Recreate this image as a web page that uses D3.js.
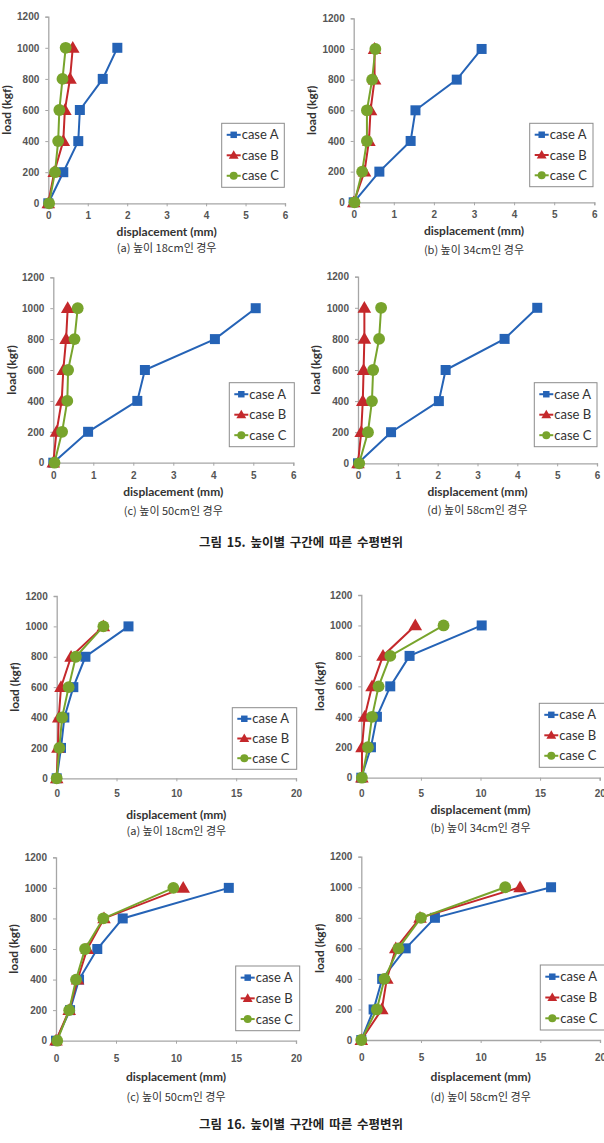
<!DOCTYPE html>
<html><head><meta charset="utf-8">
<script src="https://cdn.jsdelivr.net/npm/d3@7"></script>
<style>
html,body{margin:0;padding:0;background:#fff;}
svg{display:block;}
</style></head>
<body>
<svg id="c" width="604" height="1143"></svg>
<script>
// ---------- data ----------
const loads = [0, 200, 400, 600, 800, 1000];
const yTicks = [0, 200, 400, 600, 800, 1000, 1200];
const xTicksSmall = [0, 1, 2, 3, 4, 5, 6];
const xTicksLarge = [0, 5, 10, 15, 20];
const seriesNames = ["case A", "case B", "case C"];
const subCaptions = ["(a) 높이 18cm인 경우", "(b) 높이 34cm인 경우", "(c) 높이 50cm인 경우", "(d) 높이 58cm인 경우"];
const figCaptions = ["그림 15. 높이별 구간에 따른 수평변위", "그림 16. 높이별 구간에 따른 수평변위"];
const xTitle = "displacement (mm)";
const yTitle = "load (kgf)";

// Figure 15 displacements (mm)
const f15a_A = [0, 0.38, 0.76, 0.80, 1.38, 1.75];
const f15a_B = [0, 0.15, 0.38, 0.42, 0.55, 0.62];
const f15a_C = [0.02, 0.17, 0.25, 0.28, 0.36, 0.44];
const f15b_A = [0, 0.64, 1.42, 1.54, 2.57, 3.19];
const f15b_B = [0, 0.27, 0.38, 0.42, 0.52, 0.52];
const f15b_C = [0.02, 0.21, 0.33, 0.33, 0.46, 0.54];
const f15c_A = [0, 0.87, 2.10, 2.29, 4.04, 5.06];
const f15c_B = [0, 0.08, 0.21, 0.25, 0.32, 0.36];
const f15c_C = [0.03, 0.22, 0.35, 0.37, 0.53, 0.61];
const f15d_A = [0, 0.83, 2.03, 2.20, 3.68, 4.50];
const f15d_B = [0, 0.08, 0.12, 0.14, 0.16, 0.16];
const f15d_C = [0.03, 0.25, 0.35, 0.38, 0.53, 0.58];
// Figure 16 displacements (mm)
const f16a_A = [0, 0.36, 0.64, 1.39, 2.40, 6.00];
const f16a_B = [0, 0.10, 0.17, 0.36, 1.20, 3.90];
const f16a_C = [0, 0.22, 0.45, 1.00, 1.60, 3.90];
const f16b_A = [0, 0.81, 1.31, 2.43, 4.05, 10.10];
const f16b_B = [0.05, 0.06, 0.28, 0.90, 1.82, 4.53];
const f16b_C = [0.05, 0.56, 0.90, 1.45, 2.43, 6.90];
const f16c_A = [0, 1.17, 1.92, 3.44, 5.56, 14.40];
const f16c_B = [0, 1.10, 1.80, 2.60, 4.00, 10.60];
const f16c_C = [0.10, 1.10, 1.67, 2.42, 3.94, 9.78];
const f16d_A = [0, 1.03, 1.75, 3.72, 6.17, 15.90];
const f16d_B = [0, 1.72, 2.14, 2.89, 4.92, 13.30];
const f16d_C = [0, 1.30, 1.94, 3.11, 5.00, 12.06];

// ---------- layout ----------
const colors = ["#2563b6", "#c4282b", "#78a42c"];
const panels = [
  {series:[f15a_A,f15a_B,f15a_C], ticks:xTicksSmall, cap:0, x0:48.3, x1:285, y0:203.3, y1:16.7, tk:12.7, tt:28.5, cp:45, lg:[221.7,123.3,62.6,64]},
  {series:[f15b_A,f15b_B,f15b_C], ticks:xTicksSmall, cap:1, x0:353.7, x1:594.3, y0:202.3, y1:18.3, tk:12.7, tt:28.5, cp:48, lg:[529.7,123.3,63.3,63.4]},
  {series:[f15c_A,f15c_B,f15c_C], ticks:xTicksSmall, cap:2, x0:53.3, x1:293.3, y0:462.7, y1:277.3, tk:12.5, tt:29, cp:48, lg:[229.3,382.7,65,64]},
  {series:[f15d_A,f15d_B,f15d_C], ticks:xTicksSmall, cap:3, x0:358, x1:597, y0:463.3, y1:276.7, tk:12.5, tt:28.5, cp:47, lg:[534.3,382.7,62.7,64]},
  {series:[f16a_A,f16a_B,f16a_C], ticks:xTicksLarge, cap:0, x0:56.7, x1:296, y0:778.3, y1:596, tk:15, tt:36.7, cp:52.4, lg:[232.3,707.7,64.4,61.6]},
  {series:[f16b_A,f16b_B,f16b_C], ticks:xTicksLarge, cap:1, x0:361.3, x1:599.7, y0:777.7, y1:595, tk:15.6, tt:31.6, cp:50.6, lg:[539.3,703.3,66,64]},
  {series:[f16c_A,f16c_B,f16c_C], ticks:xTicksLarge, cap:2, x0:56, x1:296, y0:1040.7, y1:857.3, tk:17.6, tt:36.3, cp:56, lg:[235.7,966,64,64.7]},
  {series:[f16d_A,f16d_B,f16d_C], ticks:xTicksLarge, cap:3, x0:361.3, x1:600, y0:1040, y1:856.7, tk:17.3, tt:36.7, cp:57, lg:[540.3,965,66,65]},
];
const figCapY = [543, 1125];

const svg = d3.select("#c");
const axisColor = "#a6a6a6";
const tickFont = "'Liberation Sans', Arial, sans-serif";
const latin = "Lato, 'Open Sans', sans-serif";
const kr = "'Noto Sans CJK KR', sans-serif";

const symbols = [d3.symbolSquare, d3.symbolTriangle, d3.symbolCircle];
const symSize = [100, 80, 110];
const legSize = [42, 42, 50];

panels.forEach(p => {
  const xmax = p.ticks[p.ticks.length - 1];
  const x = d3.scaleLinear().domain([0, xmax]).range([p.x0, p.x1]);
  const y = d3.scaleLinear().domain([0, 1200]).range([p.y0, p.y1]);
  const g = svg.append("g");

  // x axis
  const xa = g.append("g").attr("transform", `translate(0,${p.y0})`)
    .call(d3.axisBottom(x).tickValues(p.ticks).tickSize(3).tickPadding(2).tickFormat(d3.format("d")));
  xa.select(".domain").attr("stroke", axisColor).attr("stroke-width", 1.3);
  xa.selectAll(".tick line").attr("stroke", axisColor);
  xa.selectAll(".tick text").attr("fill", "#555").attr("font-family", tickFont)
    .attr("font-weight", "bold").attr("font-size", 10).attr("dy", null).attr("y", p.tk + 3.5);

  // y axis
  const ya = g.append("g").attr("transform", `translate(${p.x0},0)`)
    .call(d3.axisLeft(y).tickValues(yTicks).tickSize(3).tickPadding(6).tickFormat(d3.format("d")));
  ya.select(".domain").attr("stroke", axisColor).attr("stroke-width", 1.3);
  ya.selectAll(".tick line").attr("stroke", axisColor);
  ya.selectAll(".tick text").attr("fill", "#555").attr("font-family", tickFont)
    .attr("font-weight", "bold").attr("font-size", 10);

  const cx = (p.x0 + p.x1) / 2;
  g.append("text").attr("x", cx).attr("y", p.y0 + p.tt).attr("dy", "0.35em")
    .attr("text-anchor", "middle").attr("font-family", latin).attr("font-weight", "bold")
    .attr("font-size", 12).attr("fill", "#333").text(xTitle);
  const ym = (p.y0 + p.y1) / 2;
  g.append("text").attr("transform", `translate(${p.x0 - 42},${ym}) rotate(-90)`).attr("dy", "0.35em")
    .attr("text-anchor", "middle").attr("font-family", latin).attr("font-weight", "bold")
    .attr("font-size", 12).attr("fill", "#333").text(yTitle);
  g.append("text").attr("x", cx).attr("y", p.y0 + p.cp).attr("dy", "0.35em")
    .attr("text-anchor", "middle").attr("font-family", kr)
    .attr("font-size", 11).attr("fill", "#333").text(subCaptions[p.cap]);

  // series
  const line = d3.line().x(d => x(d[0])).y(d => y(d[1]));
  p.series.forEach((vals, i) => {
    const pts = vals.map((v, k) => [v, loads[k]]);
    g.append("path").attr("d", line(pts)).attr("fill", "none")
      .attr("stroke", colors[i]).attr("stroke-width", 2);
    g.selectAll(null).data(pts).enter().append("path")
      .attr("transform", d => `translate(${x(d[0])},${y(d[1]) + (i === 1 ? 1 : 0)})`)
      .attr("d", d3.symbol().type(symbols[i]).size(symSize[i]))
      .attr("fill", colors[i]);
  });

  // legend
  const [lx, ly, lw, lh] = p.lg;
  const lg = g.append("g");
  lg.append("rect").attr("x", lx).attr("y", ly).attr("width", lw).attr("height", lh)
    .attr("fill", "#fff").attr("stroke", "#8c8c8c").attr("stroke-width", 1);
  seriesNames.forEach((name, i) => {
    const ey = ly + lh * (0.18 + 0.32 * i);
    lg.append("line").attr("x1", lx + 5).attr("x2", lx + 19).attr("y1", ey).attr("y2", ey)
      .attr("stroke", colors[i]).attr("stroke-width", 2);
    lg.append("path").attr("transform", `translate(${lx + 12},${ey + (i === 1 ? 0.7 : 0)})`)
      .attr("d", d3.symbol().type(symbols[i]).size(legSize[i])).attr("fill", colors[i]);
    lg.append("text").attr("x", lx + 20).attr("y", ey).attr("dy", "0.35em")
      .attr("font-family", latin).attr("font-size", 13).attr("fill", "#333").text(name);
  });
});

figCaptions.forEach((t, i) => {
  svg.append("text").attr("x", 301).attr("y", figCapY[i]).attr("dy", "0.35em")
    .attr("text-anchor", "middle").attr("font-family", kr).attr("font-weight", "bold")
    .attr("font-size", 12.5).attr("fill", "#222").attr("word-spacing", 2).text(t);
});
</script>
</body></html>
